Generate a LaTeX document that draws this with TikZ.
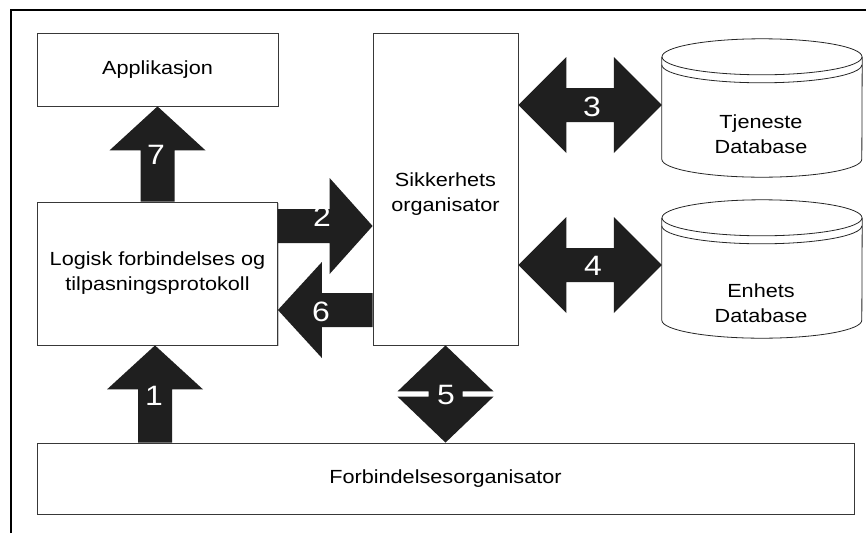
\documentclass[tikz,border=0pt]{standalone}
\usepackage{fontspec}
\setmainfont[FakeStretch=1.14]{Liberation Sans}
\usetikzlibrary{calc,shadows}

\newcommand\lblfont{\fontsize{19}{25}\selectfont}
\newcommand\numfont{\fontsize{28}{30}\selectfont}

% single block arrow: [head length]{tail}{tip}
\newcommand\blkarrow[3][44]{%
  \coordinate (hb) at ($(#3)!#1pt!(#2)$);
  \fill[blk] (#3) -- ($(hb)!48pt!90:(#3)$) -- ($(hb)!17pt!90:(#3)$)
    -- ($(#2)!17pt!90:(#3)$) -- ($(#2)!17pt!-90:(#3)$)
    -- ($(hb)!17pt!-90:(#3)$) -- ($(hb)!48pt!-90:(#3)$) -- cycle;}

% double block arrow: [head length]{end a}{end b}
\newcommand\blkdarrow[3][48]{%
  \coordinate (ha) at ($(#2)!#1pt!(#3)$);
  \coordinate (hc) at ($(#3)!#1pt!(#2)$);
  \fill[blk] (#2) -- ($(ha)!48pt!90:(#3)$) -- ($(ha)!17pt!90:(#3)$)
    -- ($(hc)!17pt!-90:(#2)$) -- ($(hc)!48pt!-90:(#2)$) -- (#3)
    -- ($(hc)!48pt!90:(#2)$) -- ($(hc)!17pt!90:(#2)$)
    -- ($(ha)!17pt!-90:(#3)$) -- ($(ha)!48pt!-90:(#3)$) -- cycle;}

% database cylinder drawn around an empty node
\newcommand\dbshape[1]{%
  \fill[white] ($(#1.north west)+(0,18)$) -- ($(#1.south west)+(0,-18)$)
    arc[start angle=180,end angle=360,x radius=100pt,y radius=18pt]
    -- ($(#1.north east)+(0,18)$) -- cycle;
  \draw[dbline] ($(#1.north)+(0,18)$) ellipse [x radius=100pt, y radius=18pt];
  \draw[dbline] ($(#1.north west)+(0,26)$)
    arc[start angle=180,end angle=360,x radius=100pt,y radius=18pt];
  \draw[dbline] ($(#1.north west)+(0,18)$) -- ($(#1.south west)+(0,-18)$)
    arc[start angle=180,end angle=360,x radius=100pt,y radius=18pt]
    -- ($(#1.north east)+(0,18)$);}

\begin{document}
\begin{tikzpicture}[x=1pt,y=-1pt,
  box/.style={draw=black!78, line width=0.8pt, fill=white, inner sep=0pt,
    align=center, font=\lblfont,
    drop shadow={shadow xshift=1.2pt, shadow yshift=-1.2pt, fill=black!22, opacity=1}},
  txt/.style={align=center, font=\lblfont, inner sep=0pt},
  area/.style={inner sep=0pt},
  dbline/.style={draw=black!85, line width=0.8pt},
  blk/.style={fill=black!88},
  num/.style={text=white, font=\numfont, inner sep=0pt}]
\useasboundingbox (0,0) rectangle (866,533);
\fill[white] (0,0) rectangle (866,533);

% frame edges
\draw[line width=2pt] (11,533) -- (11,10) -- (866,10);

% boxes
\node[box, minimum width=241pt, minimum height=73pt] (app) at (157.5,69.5) {Applikasjon};
\node[box, minimum width=240pt, minimum height=143pt] (lcp) at (157.5,273.5)
  {Logisk forbindelses og\\tilpasningsprotokoll};
\node[box, minimum width=145pt, minimum height=312pt] (sec) at (445.5,189) {};
\node[txt] (sect) at (445.5,194) {Sikkerhets\\organisator};
\node[box, minimum width=817pt, minimum height=71pt] (con) at (445.5,478.5)
  {Forbindelsesorganisator};

% databases
\node[area, minimum width=200pt, minimum height=138pt] (db1) at (762,108) {};
\node[area, minimum width=200pt, minimum height=138pt] (db2) at (762,269) {};
\dbshape{db1}
\dbshape{db2}
\node[txt] (db1t) at (761,134) {Tjeneste\\Database};
\node[txt] (db2t) at (761,303) {Enhets\\Database};

% arrow rows
\coordinate (r1) at (155,0);
\coordinate (r2) at (0,226);
\coordinate (r6) at (0,310);
\coordinate (r3) at (0,105);
\coordinate (r4) at (0,265);

\blkarrow{lcp.north}{app.south}
\blkarrow{con.north -| r1}{lcp.south -| r1}
\blkarrow[43]{lcp.east |- r2}{sec.west |- r2}
\blkarrow[44]{sec.west |- r6}{lcp.east |- r6}
\blkdarrow[48]{sec.east |- r3}{db1.west |- r3}
\blkdarrow[48]{sec.east |- r4}{db2.west |- r4}
\blkdarrow[46]{sec.south}{con.north -| sec.south}

% arrow numbers
\node[num] (n1) at (154,396) {1};
\node[num] (n2) at (322,217) {2};
\node[num] (n3) at (592,107) {3};
\node[num] (n4) at (593,266) {4};
\node[num] (n5) at (446,395) {5};
\node[num] (n6) at (321,312) {6};
\node[num] (n7) at (156,155) {7};
\end{tikzpicture}
\end{document}
